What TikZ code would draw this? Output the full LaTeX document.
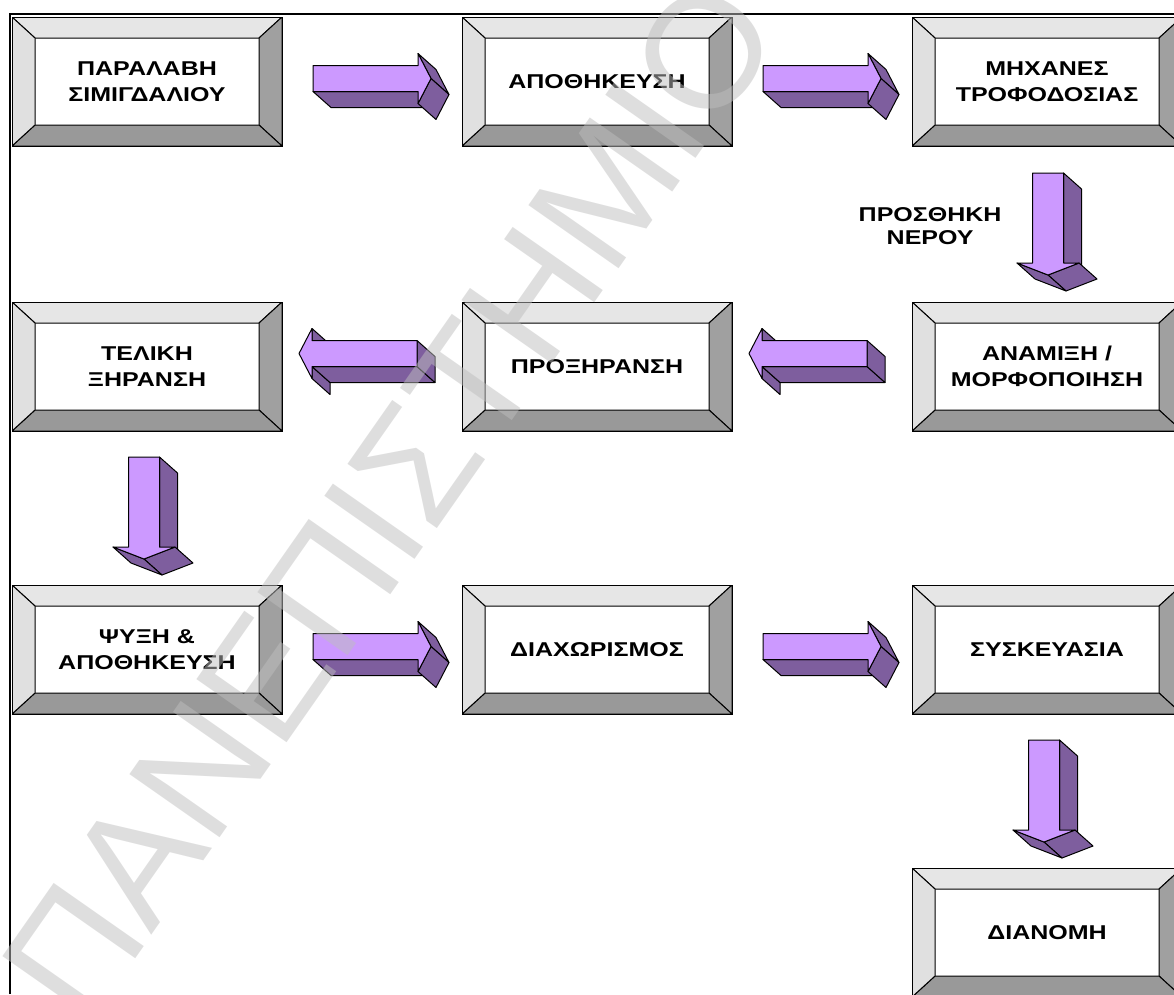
\documentclass[tikz,border=0pt]{standalone}
\usepackage{fontspec}
\setmainfont{Liberation Sans}[FakeStretch=1.25]
\newfontfamily\markfont{Liberation Sans}
\usepackage{tikz}
\usetikzlibrary{calc,positioning}
\definecolor{arrowface}{RGB}{204,153,255}
\definecolor{arrowside}{RGB}{126,94,158}
\definecolor{beveltop}{RGB}{230,230,230}
\definecolor{bevelleft}{RGB}{224,224,224}
\definecolor{bevelright}{RGB}{160,160,160}
\definecolor{bevelbottom}{RGB}{153,153,153}
\definecolor{markgray}{RGB}{190,190,190}
\tikzset{
every picture/.style={
line width=1pt
}}
\tikzset{
side/.style={draw=black, fill=arrowside, line join=round},
face/.style={draw=black, fill=arrowface, line join=round},
rightarrow/.pic={
  \path[side] (-59,13) -- (46,13) -- (64,29) -- (-41,29) -- cycle;
  \path[side] (46,-25) -- (59,0) -- (77,16) -- (64,-9) -- cycle;
  \path[side] (59,0) -- (46,25) -- (64,41) -- (77,16) -- cycle;
  \path[face] (-59,-13) -- (46,-13) -- (46,-25) -- (59,0) -- (46,25) -- (46,13) -- (-59,13) -- cycle;
  },
leftarrow/.pic={
  \path[side] (-46,-13) -- (-46,-25) -- (-28,-9) -- (-28,3) -- cycle;
  \path[side] (-46,13) -- (-46,25) -- (-28,41) -- (-28,29) -- cycle;
  \path[side] (-46,13) -- (59,13) -- (77,29) -- (-28,29) -- cycle;
  \path[side] (59,-13) -- (59,13) -- (77,29) -- (77,3) -- cycle;
  \path[face] (-59,0) -- (-46,-25) -- (-46,-13) -- (59,-13) -- (59,13) -- (-46,13) -- (-46,25) -- cycle;
  },
downarrow/.pic={
  \path[side] (15.5,-51) -- (15.5,39) -- (33.5,55) -- (33.5,-35) -- cycle;
  \path[side] (31,39) -- (0,51) -- (18,67) -- (49,55) -- cycle;
  \path[side] (0,51) -- (-31,39) -- (-13,55) -- (18,67) -- cycle;
  \path[face] (-15.5,-51) -- (15.5,-51) -- (15.5,39) -- (31,39) -- (0,51) -- (-31,39) -- (-15.5,39) -- cycle;
  }}

\begin{document}
\begin{tikzpicture}[x=1pt, y=-1pt,
stage/.style = {rectangle, draw=black, fill=white, minimum width=270pt, minimum height=129pt,
  inner sep=0pt, align=center, font=\fontsize{20}{26}\selectfont\bfseries,
  path picture={
    \coordinate (p1) at (path picture bounding box.north west);
    \coordinate (p2) at (path picture bounding box.north east);
    \coordinate (p3) at (path picture bounding box.south east);
    \coordinate (p4) at (path picture bounding box.south west);
    \filldraw[fill=beveltop] (p1) -- (p2) -- ($(p2)+(-23,21)$) -- ($(p1)+(23,21)$) -- cycle;
    \filldraw[fill=bevelright] (p2) -- (p3) -- ($(p3)+(-23,-21)$) -- ($(p2)+(-23,21)$) -- cycle;
    \filldraw[fill=bevelbottom] (p3) -- (p4) -- ($(p4)+(23,-21)$) -- ($(p3)+(-23,-21)$) -- cycle;
    \filldraw[fill=bevelleft] (p4) -- (p1) -- ($(p1)+(23,21)$) -- ($(p4)+(23,-21)$) -- cycle;
  }},
note/.style = {inner sep=0pt, align=center, font=\fontsize{20}{23}\selectfont\bfseries},
watermark/.style = {inner sep=0pt, text=markgray, text opacity=0.5, font=\markfont\fontsize{160}{160}\selectfont}]

\useasboundingbox (0,0) rectangle (1174,994);
\clip (0,0) rectangle (1174,994);

\draw[line width=2pt] (10,994) -- (10,14) -- (1174,14);

\node [stage] at (147,81.5) (receive) {ΠΑΡΑΛΑΒΗ\\ΣΙΜΙΓΔΑΛΙΟΥ};
\node [stage] at (597,81.5) (store) {ΑΠΟΘΗΚΕΥΣΗ};
\node [stage] at (1047,81.5) (feed) {ΜΗΧΑΝΕΣ\\ΤΡΟΦΟΔΟΣΙΑΣ};
\node [stage] at (1047,366.5) (mix) {ΑΝΑΜΙΞΗ /\\ΜΟΡΦΟΠΟΙΗΣΗ};
\node [stage] at (597,366.5) (predry) {ΠΡΟΞΗΡΑΝΣΗ};
\node [stage] at (147,366.5) (dry) {ΤΕΛΙΚΗ\\ΞΗΡΑΝΣΗ};
\node [stage] at (147,649.5) (cool) {ΨΥΞΗ \&\\ΑΠΟΘΗΚΕΥΣΗ};
\node [stage] at (597,649.5) (sort) {ΔΙΑΧΩΡΙΣΜΟΣ};
\node [stage] at (1047,649.5) (pack) {ΣΥΣΚΕΥΑΣΙΑ};
\node [stage] at (1047,932.5) (ship) {ΔΙΑΝΟΜΗ};

\coordinate (feedmix) at ($(feed.south)!.5!(mix.north)$);
\node [note, left=45pt of feedmix, yshift=-2pt] (water) {ΠΡΟΣΘΗΚΗ\\ΝΕΡΟΥ};

\path ($(receive.east)!.5!(store.west)$) ++(0,-3) pic {rightarrow};
\path ($(store.east)!.5!(feed.west)$) ++(0,-3) pic {rightarrow};
\path (feedmix) ++(1,0) pic {downarrow};
\path ($(mix.west)!.5!(predry.east)$) ++(-14,-13) pic {leftarrow};
\path ($(predry.west)!.5!(dry.east)$) ++(-14,-13) pic {leftarrow};
\path ($(dry.south)!.5!(cool.north)$) ++(-3,0) pic {downarrow};
\path ($(cool.east)!.5!(sort.west)$) ++(0,-3) pic {rightarrow};
\path ($(sort.east)!.5!(pack.west)$) ++(0,-3) pic {rightarrow};
\path ($(pack.south)!.5!(ship.north)$) ++(-3,0) pic {downarrow};

\node [watermark, rotate=55, anchor=base west] at (85,1031) (mark) {ΠΑΝΕΠΙΣΤΗΜΙΟ};

\end{tikzpicture}
\end{document}
